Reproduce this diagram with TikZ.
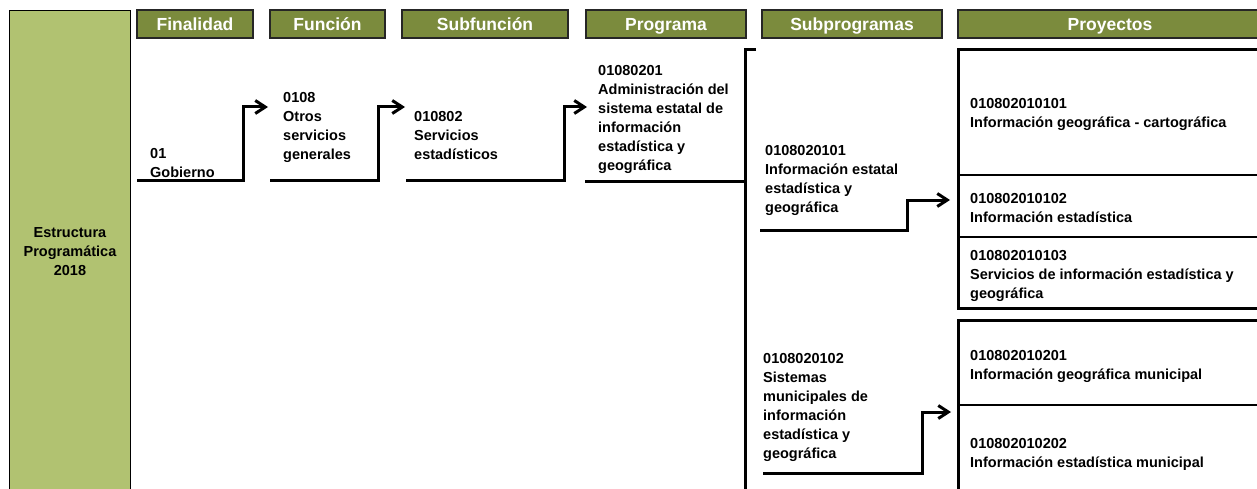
\documentclass[tikz,border=0pt]{standalone}
\usepackage{fontspec}
\setmainfont{Liberation Sans}
\usetikzlibrary{arrows.meta}
\definecolor{hdr}{HTML}{7B8B3D}
\definecolor{lgreen}{HTML}{B1C271}
\begin{document}
\begin{tikzpicture}[x=1pt,y=-1pt,
  hdrbox/.style={draw=black!85, line width=1.2pt, fill=hdr, text=white,
    font=\fontsize{17.5}{20}\selectfont\bfseries, minimum height=28pt, inner sep=0pt,
    text height=12.6pt, text depth=0pt},
  txt/.style={anchor=north west, inner sep=0pt, align=left,
    font=\fontsize{14.5}{19}\selectfont\bfseries, text=black},
  conn/.style={line width=3pt, line join=miter},
  arr/.style={conn, -{Straight Barb[length=10pt,width=13pt]}},
  sep/.style={line width=2.6pt}]
\useasboundingbox (0,0) rectangle (1257,489);

% left green column
\node[draw=black, line width=1.2pt, fill=lgreen, anchor=north west,
  minimum width=121pt, minimum height=490pt, inner sep=0pt] (estr) at (9,10) {};
\node[inner sep=0pt, align=center, font=\fontsize{14.5}{19}\selectfont\bfseries] (estrt) at (70,252)
  {Estructura\\Programática\\2018};

% headers
\node[hdrbox, minimum width=116pt] (hfin) at (195,24) {Finalidad};
\node[hdrbox, minimum width=115pt] (hfun) at (327.5,24) {Función};
\node[hdrbox, minimum width=166pt] (hsub) at (485,24) {Subfunción};
\node[hdrbox, minimum width=160pt] (hprog) at (666,24) {Programa};
\node[hdrbox, minimum width=180pt] (hsubp) at (852,24) {Subprogramas};
\node[hdrbox, minimum width=304pt] (hproy) at (1110,24) {Proyectos};

% texts
\node[txt] (tfin) at (150,148) {01\\Gobierno};
\node[txt] (tfun) at (283,92) {0108\\Otros\\servicios\\generales};
\node[txt] (tsub) at (414,111) {010802\\Servicios\\estadísticos};
\node[txt] (tprog) at (598,65) {01080201\\Administración del\\sistema estatal de\\información\\estadística y\\geográfica};
\node[txt] (tsp1) at (765,145) {0108020101\\Información estatal\\estadística y\\geográfica};
\node[txt] (tsp2) at (763,353) {0108020102\\Sistemas\\municipales de\\información\\estadística y\\geográfica};
\node[txt] (tp1) at (970,98) {010802010101\\Información geográfica - cartográfica};
\node[txt] (tp2) at (970,193) {010802010102\\Información estadística};
\node[txt] (tp3) at (970,250) {010802010103\\Servicios de información estadística y\\geográfica};
\node[txt] (tp4) at (970,350) {010802010201\\Información geográfica municipal};
\node[txt] (tp5) at (970,438) {010802010202\\Información estadística municipal};

% connector coordinates
\coordinate (finS) at (137,181); \coordinate (finK) at (243,181); \coordinate (funA) at (268,107);
\coordinate (funS) at (270,181); \coordinate (funK) at (378,181); \coordinate (subA) at (405,107);
\coordinate (subS) at (406,181); \coordinate (subK) at (564,181); \coordinate (progA) at (587,107);
\coordinate (progS) at (585,182); \coordinate (progE) at (745,182);
\coordinate (brT) at (756,50); \coordinate (brC) at (745,50); \coordinate (brB) at (745,495);
\coordinate (sp1S) at (760,230); \coordinate (sp1K) at (907,230); \coordinate (sp1A) at (950,200);
\coordinate (sp2S) at (763,473); \coordinate (sp2K) at (922,473); \coordinate (sp2A) at (951,412);

\draw[arr] (finS) -- (finK) |- (funA);
\draw[arr] (funS) -- (funK) |- (subA);
\draw[arr] (subS) -- (subK) |- (progA);
\draw[conn] (progS) -- (progE);
\draw[conn] (brT) -- (brC) -- (brB);
\draw[arr] (sp1S) -- (sp1K) |- (sp1A);
\draw[arr] (sp2S) -- (sp2K) |- (sp2A);

% project frames
\coordinate (g1TR) at (1262,50); \coordinate (g1TL) at (958,50);
\coordinate (g1BL) at (958,308); \coordinate (g1BR) at (1262,308);
\draw[conn] (g1TR) -- (g1TL) -- (g1BL) -- (g1BR);
\coordinate (s1L) at (958,175); \coordinate (s1R) at (1262,175);
\coordinate (s2L) at (958,237); \coordinate (s2R) at (1262,237);
\draw[sep] (s1L) -- (s1R);
\draw[sep] (s2L) -- (s2R);
\coordinate (g2TR) at (1262,320); \coordinate (g2TL) at (958,320); \coordinate (g2BL) at (958,495);
\draw[conn] (g2TR) -- (g2TL) -- (g2BL);
\coordinate (s3L) at (958,405); \coordinate (s3R) at (1262,405);
\draw[sep] (s3L) -- (s3R);
\end{tikzpicture}
\end{document}
